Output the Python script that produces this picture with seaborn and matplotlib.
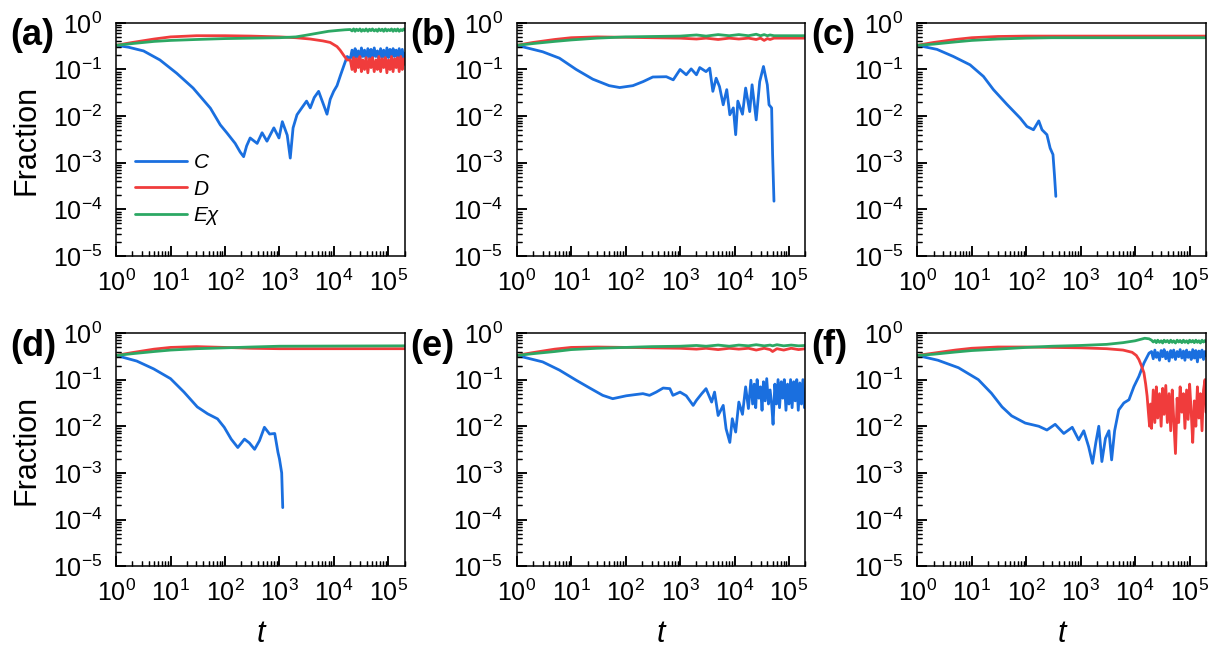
import numpy as np
import pandas as pd
import matplotlib
matplotlib.use("Agg")
import matplotlib.pyplot as plt
import seaborn as sns
from matplotlib.ticker import LogLocator, NullFormatter

# shared late-time grid for the noisy tails
t_tail = [20000, 21500, 23000, 24500, 26000, 28000, 30000, 32000, 34000, 36500,
          39000, 42000, 45000, 48000, 51000, 55000, 59000, 63000, 67000, 72000,
          77000, 82000, 88000, 94000, 100000, 107000, 114000, 122000, 130000, 139000,
          148000, 158000, 169000, 180000, 192000, 200000]

# ---- panel (a) ----
t_a_C = [1, 1.7, 3.2, 6.4, 13, 26, 54, 82, 108, 154,
         190, 220, 250, 290, 390, 480, 590, 790, 980, 1130,
         1390, 1580, 1780, 2100, 2570, 3150, 3680, 4350, 5240, 6300,
         7470, 8560, 9900, 11400, 13200, 15200, 17500] + t_tail
f_a_C = [0.33, 0.30, 0.25, 0.16, 0.083, 0.04, 0.0148, 0.0065, 0.0044, 0.0026,
         0.0017, 0.00135, 0.0023, 0.0034, 0.0026, 0.0044, 0.0029, 0.0056, 0.0034, 0.0076,
         0.0039, 0.00126, 0.0056, 0.0107, 0.015, 0.021, 0.015, 0.025, 0.034, 0.019,
         0.011, 0.023, 0.034, 0.045, 0.075, 0.12, 0.19] + \
        [0.17, 0.26, 0.16, 0.28, 0.18, 0.25, 0.17, 0.29, 0.19, 0.26,
         0.17, 0.28, 0.18, 0.27, 0.16, 0.29, 0.19, 0.25, 0.17, 0.28,
         0.18, 0.26, 0.17, 0.29, 0.18, 0.27, 0.16, 0.28, 0.19, 0.26,
         0.17, 0.28, 0.18, 0.27, 0.17, 0.22]
t_a_D = [1, 2, 5, 10, 30, 100, 300, 1000, 2000, 3680,
         6300, 8560, 10000, 11400, 13000, 15200, 17500] + t_tail
f_a_D = [0.33, 0.38, 0.45, 0.50, 0.53, 0.53, 0.52, 0.50, 0.48, 0.45,
         0.41, 0.38, 0.34, 0.31, 0.26, 0.20, 0.16] + \
        [0.16, 0.10, 0.18, 0.09, 0.17, 0.11, 0.19, 0.09, 0.16, 0.10,
         0.18, 0.085, 0.17, 0.11, 0.18, 0.09, 0.16, 0.10, 0.19, 0.09,
         0.17, 0.11, 0.18, 0.085, 0.16, 0.10, 0.19, 0.09, 0.17, 0.11,
         0.18, 0.09, 0.19, 0.10, 0.17, 0.13]
t_a_E = [1, 2, 5, 10, 30, 100, 300, 1000, 2000, 3000,
         5000, 8000, 12000, 16000] + t_tail
f_a_E = [0.33, 0.36, 0.40, 0.42, 0.44, 0.46, 0.47, 0.48, 0.50, 0.54,
         0.60, 0.66, 0.69, 0.71] + \
        [0.72, 0.67, 0.74, 0.66, 0.73, 0.68, 0.74, 0.66, 0.72, 0.67,
         0.74, 0.66, 0.73, 0.68, 0.74, 0.67, 0.72, 0.66, 0.74, 0.68,
         0.73, 0.66, 0.74, 0.67, 0.72, 0.68, 0.74, 0.66, 0.73, 0.67,
         0.74, 0.66, 0.72, 0.68, 0.74, 0.70]

# ---- panel (b) ----
t_b_C = [1, 3, 6.1, 12.4, 25, 50, 78, 136, 210, 316,
         560, 750, 1000, 1300, 1600, 2000, 2300, 3000, 3500, 4000,
         4600, 5300, 6200, 7200, 8200, 9500, 10500, 11500, 14000, 16000,
         19000, 21000, 25000, 29000, 34000, 40000, 43000, 48000, 50000, 53000]
f_b_C = [0.33, 0.24, 0.175, 0.10, 0.062, 0.045, 0.041, 0.045, 0.055, 0.069,
         0.07, 0.06, 0.10, 0.077, 0.103, 0.077, 0.11, 0.09, 0.107, 0.034,
         0.065, 0.043, 0.0175, 0.037, 0.0107, 0.015, 0.004, 0.021, 0.011, 0.04,
         0.0125, 0.047, 0.0083, 0.055, 0.116, 0.047, 0.0175, 0.015, 0.0015, 0.00015]
t_b_D = [1, 2, 5, 10, 30, 100, 300, 1000, 2000, 3000, 5000,
         8000, 12000, 18000, 25000, 30000, 35000, 40000, 45000, 53000, 80000, 200000]
f_b_D = [0.33, 0.38, 0.44, 0.48, 0.50, 0.49, 0.48, 0.47, 0.45, 0.47, 0.44,
         0.47, 0.45, 0.47, 0.44, 0.47, 0.42, 0.46, 0.44, 0.47, 0.47, 0.47]
t_b_E = t_b_D
f_b_E = [0.33, 0.36, 0.40, 0.43, 0.47, 0.50, 0.51, 0.52, 0.55, 0.52, 0.56,
         0.53, 0.56, 0.53, 0.57, 0.53, 0.56, 0.53, 0.55, 0.53, 0.53, 0.53]

# ---- panel (c) ----
t_c_C = [1, 2.3, 4.6, 9.3, 16.4, 25, 44, 78, 103, 136, 170, 195, 240, 275, 310, 330, 350]
f_c_C = [0.33, 0.27, 0.19, 0.126, 0.071, 0.037, 0.018, 0.009, 0.006, 0.0051,
         0.0079, 0.0051, 0.004, 0.00206, 0.0015, 0.00055, 0.00019]
t_c_D = [1, 2, 5, 10, 30, 100, 300, 1000, 200000]
f_c_D = [0.33, 0.38, 0.44, 0.48, 0.51, 0.52, 0.52, 0.52, 0.52]
t_c_E = t_c_D
f_c_E = [0.33, 0.35, 0.39, 0.42, 0.45, 0.47, 0.48, 0.48, 0.48]

# ---- panel (d) ----
t_d_C = [1, 2.4, 4.9, 10, 17.7, 31, 48, 73, 97, 130, 172,
         228, 280, 350, 430, 530, 660, 820, 940, 1000, 1100, 1150]
f_d_C = [0.33, 0.25, 0.17, 0.105, 0.054, 0.026, 0.0185, 0.0144, 0.0095, 0.0053, 0.0035,
         0.0053, 0.0044, 0.0032, 0.0049, 0.0095, 0.0068, 0.007, 0.00275, 0.002, 0.001, 0.00018]
t_d_D = [1, 2, 5, 10, 30, 100, 300, 1000, 200000]
f_d_D = [0.33, 0.38, 0.45, 0.49, 0.51, 0.49, 0.47, 0.46, 0.46]
t_d_E = t_d_D
f_d_E = [0.33, 0.36, 0.40, 0.43, 0.46, 0.48, 0.50, 0.52, 0.53]

# ---- panel (e) ----
t_e_C = [1, 3, 6.1, 12.4, 22, 38, 58, 103, 157, 208,
         275, 365, 490, 650, 740, 1000, 1300, 1740, 2000, 2500,
         3000, 3800, 4300, 5000, 6200, 7000, 8200, 9100, 10500, 12000,
         14000, 16000, 18000] + t_tail
f_e_C = [0.33, 0.24, 0.16, 0.097, 0.066, 0.046, 0.039, 0.045, 0.048, 0.05,
         0.046, 0.054, 0.066, 0.064, 0.046, 0.054, 0.045, 0.028, 0.036, 0.05,
         0.064, 0.033, 0.054, 0.017, 0.028, 0.0088, 0.0045, 0.0145, 0.0075, 0.033,
         0.018, 0.07, 0.024] + \
        [0.097, 0.03, 0.08, 0.025, 0.1, 0.04, 0.07, 0.022, 0.09, 0.035,
         0.105, 0.03, 0.06, 0.03, 0.011, 0.08, 0.03, 0.1, 0.025, 0.09,
         0.04, 0.1, 0.022, 0.08, 0.03, 0.1, 0.025, 0.09, 0.035, 0.1,
         0.022, 0.085, 0.03, 0.1, 0.025, 0.04]
t_e_D = [1, 2, 5, 10, 30, 100, 300, 1000, 2000, 3000, 5000, 8000,
         12000, 18000, 25000, 35000, 45000, 50000, 60000, 80000, 110000, 150000, 200000]
f_e_D = [0.33, 0.38, 0.45, 0.49, 0.50, 0.49, 0.48, 0.47, 0.45, 0.47, 0.44, 0.47,
         0.45, 0.47, 0.43, 0.47, 0.44, 0.40, 0.46, 0.43, 0.47, 0.44, 0.46]
t_e_E = t_e_D
f_e_E = [0.33, 0.36, 0.40, 0.44, 0.47, 0.49, 0.51, 0.52, 0.54, 0.52, 0.55, 0.52,
         0.55, 0.53, 0.56, 0.53, 0.55, 0.53, 0.56, 0.53, 0.55, 0.53, 0.54]

# ---- panel (f) ----
t_f_C = [1, 2.4, 5.7, 13.2, 23, 36, 54, 96, 170, 240,
         340, 490, 700, 920, 1140, 1400, 1650, 1900, 2150, 2450,
         2850, 3300, 3700, 4200, 5000, 6200, 7700, 9500, 11700, 14500,
         18000] + t_tail
f_f_C = [0.33, 0.26, 0.18, 0.10, 0.051, 0.026, 0.0167, 0.0117, 0.010, 0.0083,
         0.011, 0.007, 0.0095, 0.0051, 0.008, 0.00365, 0.0016, 0.0045, 0.010, 0.00175,
         0.0055, 0.008, 0.0019, 0.008, 0.0224, 0.0316, 0.037, 0.071, 0.117, 0.226,
         0.37] + \
        [0.40, 0.28, 0.43, 0.30, 0.38, 0.26, 0.42, 0.31, 0.44, 0.28,
         0.39, 0.25, 0.42, 0.30, 0.43, 0.27, 0.40, 0.31, 0.44, 0.29,
         0.41, 0.26, 0.43, 0.30, 0.39, 0.27, 0.44, 0.29, 0.42, 0.24,
         0.41, 0.30, 0.43, 0.27, 0.40, 0.33]
t_f_D = [1, 2, 5, 10, 30, 100, 300, 1000, 3000, 6000,
         8800, 10500, 11700, 13000, 14500, 15600, 16600, 17500, 18400, 19200] + t_tail
f_f_D = [0.33, 0.37, 0.43, 0.47, 0.50, 0.50, 0.49, 0.48, 0.46, 0.43,
         0.385, 0.33, 0.27, 0.20, 0.14, 0.08, 0.044, 0.02, 0.01, 0.03] + \
        [0.009, 0.06, 0.012, 0.07, 0.015, 0.05, 0.01, 0.065, 0.018, 0.075,
         0.012, 0.05, 0.008, 0.06, 0.015, 0.0026, 0.04, 0.012, 0.07, 0.02,
         0.05, 0.009, 0.06, 0.014, 0.08, 0.02, 0.0045, 0.035, 0.01, 0.07,
         0.015, 0.05, 0.008, 0.06, 0.1, 0.02]
t_f_E = [1, 2, 5, 10, 30, 100, 300, 1000, 3000, 6000, 10000, 15000, 18000] + t_tail
f_f_E = [0.33, 0.35, 0.39, 0.42, 0.45, 0.49, 0.52, 0.54, 0.57, 0.62, 0.68, 0.77, 0.75] + \
        [0.70, 0.64, 0.69, 0.62, 0.70, 0.63, 0.68, 0.61, 0.70, 0.64,
         0.69, 0.62, 0.70, 0.63, 0.68, 0.61, 0.70, 0.64, 0.69, 0.62,
         0.70, 0.63, 0.68, 0.61, 0.70, 0.64, 0.69, 0.62, 0.70, 0.63,
         0.68, 0.61, 0.70, 0.64, 0.69, 0.66]

panel_labels = ['(a)', '(b)', '(c)', '(d)', '(e)', '(f)']
legend_labels = ['C', 'D', 'Eχ']

panels = [
    (t_a_C, f_a_C, t_a_D, f_a_D, t_a_E, f_a_E),
    (t_b_C, f_b_C, t_b_D, f_b_D, t_b_E, f_b_E),
    (t_c_C, f_c_C, t_c_D, f_c_D, t_c_E, f_c_E),
    (t_d_C, f_d_C, t_d_D, f_d_D, t_d_E, f_d_E),
    (t_e_C, f_e_C, t_e_D, f_e_D, t_e_E, f_e_E),
    (t_f_C, f_f_C, t_f_D, f_f_D, t_f_E, f_f_E),
]

sns.set_theme(style="ticks", rc={'axes.edgecolor': 'black', 'xtick.color': 'black',
                                 'ytick.color': 'black', 'text.color': 'black',
                                 'axes.labelcolor': 'black'})
plt.rcParams['font.family'] = ['Liberation Sans', 'DejaVu Sans']

colors = ['#1a6fdf', '#f03c3c', '#2ca864']


def log_axes_style(ax, labels=True):
    ax.set_xscale('log')
    ax.set_yscale('log')
    ax.set_xlim(1, 2e5)
    ax.set_ylim(1e-5, 1)
    ax.xaxis.set_major_locator(LogLocator(base=10, numticks=12))
    ax.yaxis.set_major_locator(LogLocator(base=10, numticks=12))
    ax.xaxis.set_minor_locator(LogLocator(base=10, subs=np.arange(2, 10), numticks=100))
    ax.yaxis.set_minor_locator(LogLocator(base=10, subs=np.arange(2, 10), numticks=100))
    ax.xaxis.set_minor_formatter(NullFormatter())
    ax.yaxis.set_minor_formatter(NullFormatter())
    ax.tick_params(which='major', direction='in', length=7, width=1.1, color='black',
                   labelsize=18, pad=10, top=False, right=False, bottom=True, left=True,
                   labelbottom=labels, labelleft=labels)
    ax.tick_params(which='minor', direction='in', length=3.5, width=0.9, color='black',
                   top=False, right=False, bottom=True, left=True)


fig, axes = plt.subplots(2, 3, figsize=(12.15, 6.53), dpi=100)
fig.subplots_adjust(left=0.0955, right=0.9926, bottom=0.133, top=0.965,
                    wspace=0.3875, hspace=0.33)

for i, ax in enumerate(axes.flat):
    c_t, c_f, d_t, d_f, e_t, e_f = panels[i]
    # one lineplot per strategy, drawn C, D, then E on top
    for t, f, col in ((c_t, c_f, colors[0]), (d_t, d_f, colors[1]), (e_t, e_f, colors[2])):
        df = pd.DataFrame({'t': t, 'frac': f})
        sns.lineplot(data=df, x='t', y='frac', color=col, linewidth=2.0, ax=ax)
    log_axes_style(ax)
    for s in ax.spines.values():
        s.set_linewidth(1.1)
        s.set_visible(True)
    ax.set_xlabel('')
    ax.set_ylabel('')
    if i >= 3:
        ax.set_xlabel('t', fontsize=22, style='italic', labelpad=9)
    if i % 3 == 0:
        ax.set_ylabel('Fraction', fontsize=22, labelpad=8)
    pos = ax.get_position()
    fig.text(pos.x0 - 0.367 * pos.width, pos.y1 - 0.056 * pos.height, panel_labels[i],
             fontsize=26, fontweight='bold', ha='left', va='center')

    # transparent overlay that only carries the inward tick marks
    ax_t = fig.add_axes(pos, facecolor='none', zorder=5)
    log_axes_style(ax_t, labels=False)
    for s in ax_t.spines.values():
        s.set_visible(False)
    ax_t.set_xlabel('')
    ax_t.set_ylabel('')

ax0 = axes[0, 0]
ax0.legend(ax0.get_lines()[:3], legend_labels, loc='upper left',
           bbox_to_anchor=(0.066, 0.44), frameon=False, borderaxespad=0,
           borderpad=0, handlelength=2.5, handletextpad=0.3, labelspacing=0.35,
           prop={'style': 'italic', 'size': 15})

fig.savefig('out.png', dpi=100)
